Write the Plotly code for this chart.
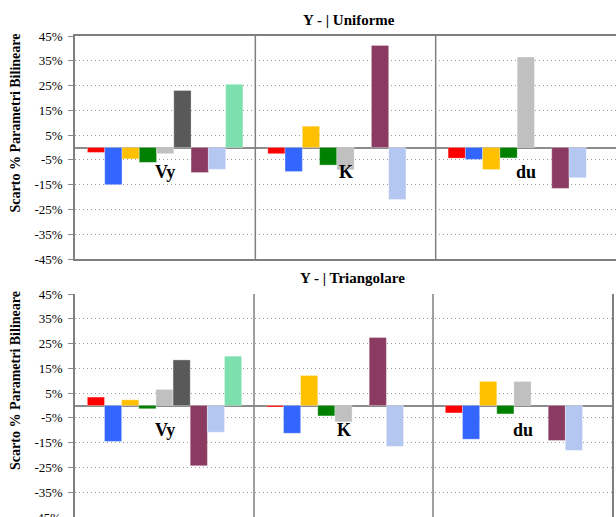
import plotly.graph_objects as go

categories = ["Vy", "K", "du"]
series_names = ["S1", "S2", "S3", "S4", "S5", "S6", "S7", "S8", "S9"]
colors = ["#ff0000", "#3366ff", "#ffc000", "#008000", "#c0c0c0",
          "#595959", "#8b3a62", "#b4c7f0", "#7be0ad"]

# values in % ; None = no bar
uniforme = [
    [-2.0, -2.5, -4.3],
    [-15.0, -9.7, -4.8],
    [-4.6, 8.6, -8.9],
    [-6.0, -7.1, -4.2],
    [-2.5, -9.0, 36.5],
    [23.0, None, None],
    [-10.1, 41.2, -16.5],
    [-8.8, -21.0, -12.2],
    [25.5, None, None],
]
triangolare = [
    [3.4, -0.6, -3.0],
    [-14.5, -11.2, -13.6],
    [2.3, 12.1, 9.7],
    [-1.3, -4.2, -3.4],
    [6.5, -6.6, 9.7],
    [18.4, None, None],
    [-24.3, 27.4, -14.1],
    [-10.8, -16.5, -18.1],
    [19.9, None, None],
]
tick_vals = [45, 35, 25, 15, 5, -5, -15, -25, -35, -45]
tick_text = [f"{v}%" for v in tick_vals]
panel_titles = ["Y - | Uniforme", "Y - | Triangolare"]
y_title = "Scarto % Parametri Bilineare"

W, H = 616, 517
L, R, T, B = 75, 0, 36, 0
pw, ph = W - L - R, H - T - B

def py(ref_px):
    return (H - B - ref_px) / ph

def pxx(ref_px):
    return (ref_px - L) / pw

serif = "Liberation Serif"

fig = go.Figure()
for panel, (data, xa, ya) in enumerate([(uniforme, "x", "y"), (triangolare, "x2", "y2")]):
    for i, vals in enumerate(data):
        fig.add_trace(go.Bar(
            x=categories, y=vals, name=series_names[i],
            marker=dict(color=colors[i], line=dict(width=0.6, color="rgba(255,255,255,0.5)")),
            xaxis=xa, yaxis=ya, showlegend=False, hoverinfo="skip",
        ))

axis_common = dict(
    range=[-45, 45], tickvals=tick_vals, ticktext=tick_text, automargin=False,
    showgrid=True, gridcolor="#9a9a9a", griddash="1px,3px", gridwidth=1,
    zeroline=True, zerolinecolor="#8c8c8c", zerolinewidth=1.5,
    ticks="outside", ticklen=5, tickcolor="#8c8c8c", ticklabelstandoff=3,
    tickfont=dict(family=serif, size=13, color="#000"),
    showline=True, linecolor="#7f7f7f", linewidth=1.5, mirror=True,
)
xcommon = dict(type="category", range=[-0.5, 2.5], showticklabels=False, automargin=False,
               showgrid=False, zeroline=False, ticks="",
               showline=True, linecolor="#7f7f7f", linewidth=1.5)

fig.update_layout(
    width=W, height=H,
    margin=dict(l=L, r=R, t=T, b=B, autoexpand=False),
    paper_bgcolor="white", plot_bgcolor="white",
    barmode="group", bargap=0.138, bargroupgap=0,
    xaxis=dict(domain=[0, 1], anchor="y", mirror=True, **xcommon),
    yaxis=dict(domain=[py(259), 1], anchor="x", **axis_common),
    xaxis2=dict(domain=[0, pxx(612)], anchor="y2", mirror=False, **xcommon),
    yaxis2=dict(domain=[0, py(294)], anchor="x2", **axis_common),
)

shapes = []
for xa, ya in [("x", "y"), ("x2", "y2")]:
    for xv in [0.5, 1.5]:
        shapes.append(dict(type="line", xref=xa, yref=f"{ya} domain", x0=xv, x1=xv,
                           y0=0, y1=1, line=dict(color="#7f7f7f", width=1.5)))
fig.update_layout(shapes=shapes)

ann = []
ann.append(dict(text=f"<b>{panel_titles[0]}</b>", xref="paper", yref="paper",
                x=pxx(349), y=py(20), showarrow=False, xanchor="center", yanchor="middle",
                font=dict(family=serif, size=15, color="#000")))
ann.append(dict(text=f"<b>{panel_titles[1]}</b>", xref="paper", yref="paper",
                x=pxx(352), y=py(278), showarrow=False, xanchor="center", yanchor="middle",
                font=dict(family=serif, size=15, color="#000")))
for ycen in [123.5, 381]:
    ann.append(dict(text=f"<b>{y_title}</b>", xref="paper", yref="paper",
                    x=pxx(15), y=py(ycen), showarrow=False, textangle=-90,
                    xanchor="center", yanchor="middle",
                    font=dict(family=serif, size=14, color="#000")))
for xa, ya in [("x", "y"), ("x2", "y2")]:
    for c in categories:
        ann.append(dict(text=f"<b>{c}</b>", xref=xa, yref=ya, x=c, y=-10,
                        showarrow=False, xanchor="center", yanchor="middle",
                        font=dict(family=serif, size=18, color="#000")))
# bottom-most tick label of the lower panel, partly cut by the page edge as in the original
ann.append(dict(text=tick_text[-1], xref="paper", yref="y2", x=pxx(63), y=tick_vals[-1],
                showarrow=False, xanchor="right", yanchor="middle",
                font=dict(family=serif, size=13, color="#000")))
fig.update_layout(annotations=ann)

fig.write_html("out.html", config={"displayModeBar": False},
               post_script="document.body.style.margin='0px';")
